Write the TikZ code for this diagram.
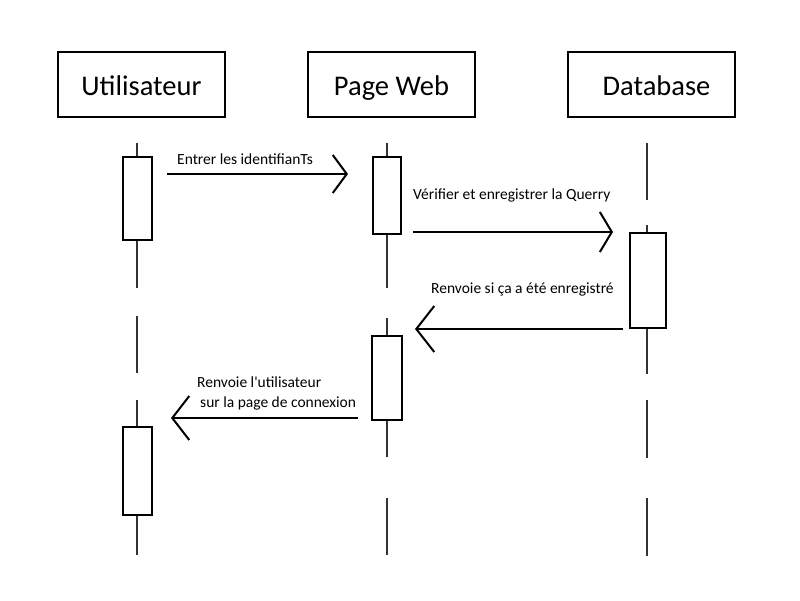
\documentclass[tikz,border=0pt]{standalone}
\usepackage{fontspec}
\setmainfont{Carlito}[Ligatures=TeXOff]
\usetikzlibrary{arrows.meta}
\begin{document}
\begin{tikzpicture}[x=1pt,y=-1pt,
  header/.style={draw=black,line width=2pt,minimum width=167pt,minimum height=65pt,inner sep=0pt,
    text height=24pt,text depth=3pt,font=\fontsize{28.5}{30}\selectfont},
  actbox/.style={draw=black,fill=white,line width=2pt,inner sep=0pt},
  lifeline/.style={draw=black!80,line width=1.8pt},
  msg/.style={draw=black,line width=2pt},
  lbl/.style={anchor=base west,inner sep=0pt,font=\fontsize{15.5}{18}\selectfont}]
\useasboundingbox (0,0) rectangle (800,600);
% headers
\node[header] (hU) at (141.5,84.5) {Utilisateur};
\node[header] (hP) at (391.5,84.5) {Page Web};
\node[header] (hD) at (651.5,84.5) {\hspace*{10pt}Database};
% lifelines
\draw[lifeline] (137,143) -- (137,288) (137,316) -- (137,373) (137,400) -- (137,555);
\draw[lifeline] (387,143) -- (387,288) (387,318) -- (387,457) (387,498) -- (387,555);
\draw[lifeline] (647,143) -- (647,200) (647,225) -- (647,374) (647,400) -- (647,458) (647,498) -- (647,556);
% activations
\node[actbox,minimum width=29pt,minimum height=83pt] (u1) at (137.5,198.5) {};
\node[actbox,minimum width=29pt,minimum height=88pt] (u2) at (137.5,471) {};
\node[actbox,minimum width=28pt,minimum height=77pt] (p1) at (387,195.5) {};
\node[actbox,minimum width=30pt,minimum height=84pt] (p2) at (387,378) {};
\node[actbox,minimum width=36pt,minimum height=95pt] (d1) at (648,280.5) {};
% message end points
\coordinate (m1s) at (167,174); \coordinate (m1e) at (348,174);
\coordinate (m2s) at (413,232); \coordinate (m2e) at (613,232);
\coordinate (m3s) at (623,329); \coordinate (m3e) at (415,329);
\coordinate (m4s) at (358,418); \coordinate (m4e) at (171,418);
\draw[msg,-{Straight Barb[length=14pt,width=38pt]}] (m1s) -- (m1e);
\draw[msg,-{Straight Barb[length=12pt,width=40pt]}] (m2s) -- (m2e);
\draw[msg,-{Straight Barb[length=18pt,width=46pt]}] (m3s) -- (m3e);
\draw[msg,-{Straight Barb[length=17pt,width=44pt]}] (m4s) -- (m4e);
% labels
\node[lbl] (l1) at (177,164) {Entrer les identifianTs};
\node[lbl] (l2) at (413,199) {Vérifier et enregistrer la Querry};
\node[lbl] (l3) at (431,293) {Renvoie si ça a été enregistré};
\node[lbl] (l4a) at (197,387) {Renvoie l'utilisateur};
\node[lbl] (l4b) at (200,407) {sur la page de connexion};
\end{tikzpicture}
\end{document}
